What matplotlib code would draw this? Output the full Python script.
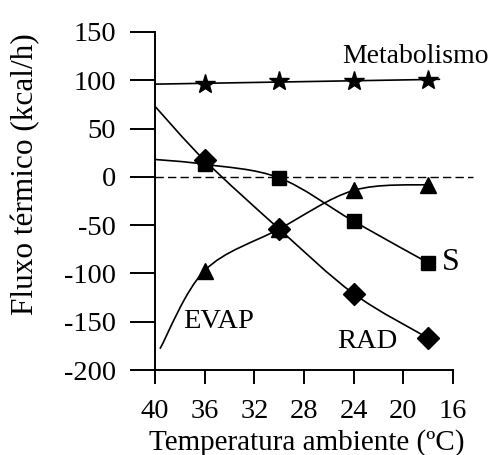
import matplotlib
matplotlib.use("Agg")
import matplotlib.pyplot as plt
from matplotlib.path import Path
from matplotlib.patches import PathPatch

plt.rcParams['font.family'] = ['Liberation Serif', 'DejaVu Serif']

# Marker data (temperature, kcal/h)
temps = [36, 30, 24, 18]
metab = [96, 99, 99, 100]
s_vals = [13, -1, -46, -89]
rad_vals = [17, -54, -121, -167]
evap_vals = [-97, -54, -14, -8]

# Fitted line end points
metab_line_x = [40, 17.1]
metab_line_y = [96, 101]
s_line_x = [40, 36, 30, 24, 18]
s_line_y = [18, 13, -1, -46, -89]
rad_line_x = [40, 36, 30, 24, 18]
rad_line_y = [73, 17, -54, -121, -167]
evap_line_x = [39.6, 36, 30, 24, 18]
evap_line_y = [-178, -97, -54, -14, -8]

xticks = [40, 36, 32, 28, 24, 20, 16]
yticks = [150, 100, 50, 0, -50, -100, -150, -200]
ytick_labels = ['150', '100', '50', '0', '-50', '-100', '-150', '-200']


def smooth_path(xs, ys, tension=1/6):
    verts = [(xs[0], ys[0])]
    codes = [Path.MOVETO]
    n = len(xs)
    for i in range(n - 1):
        x0, y0 = (xs[i - 1], ys[i - 1]) if i > 0 else (xs[i], ys[i])
        x1, y1 = xs[i], ys[i]
        x2, y2 = xs[i + 1], ys[i + 1]
        x3, y3 = (xs[i + 2], ys[i + 2]) if i + 2 < n else (xs[i + 1], ys[i + 1])
        c1 = (x1 + (x2 - x0) * tension, y1 + (y2 - y0) * tension)
        c2 = (x2 - (x3 - x1) * tension, y2 - (y3 - y1) * tension)
        verts += [c1, c2, (x2, y2)]
        codes += [Path.CURVE4] * 3
    return Path(verts, codes)


fig = plt.figure(figsize=(4.94, 4.55), dpi=100)
ax = fig.add_axes([0.3138, 0.1868, 0.917 - 0.3138, 0.9297 - 0.1868])

ax.plot(metab_line_x, metab_line_y, color='black', lw=1.2, clip_on=False)
for lx, ly in [(s_line_x, s_line_y), (rad_line_x, rad_line_y),
               (evap_line_x, evap_line_y)]:
    ax.add_patch(PathPatch(smooth_path(lx, ly), facecolor='none',
                           edgecolor='black', lw=1.2, clip_on=False))

ax.plot([40, 14.4], [0, 0], ls=(0, (6, 3)), color='black', lw=1.0, clip_on=False)

ax.plot(temps, metab, ls='none', marker='*', ms=15, color='black', clip_on=False)
ax.plot(temps, s_vals, ls='none', marker='s', ms=10, color='black', clip_on=False)
ax.plot(temps, rad_vals, ls='none', marker='D', ms=11.5, color='black', clip_on=False)
ax.plot(temps, evap_vals, ls='none', marker='^', ms=12, color='black', clip_on=False)

fs = 20.5
ax.text(13.1, 125, 'Metabolismo', fontsize=20, va='center', ha='right')
ax.text(16.9, -89, 'S', fontsize=23, va='center', ha='left')
ax.text(22.9, -170, 'RAD', fontsize=fs, va='center', ha='center')
ax.text(34.9, -150, 'EVAP', fontsize=fs, va='center', ha='center')

ax.set_xlim(40, 16)
ax.set_ylim(-200, 150)
ax.set_xticks(xticks)
ax.set_yticks(yticks)
ax.set_yticklabels(ytick_labels)
for sp in ['top', 'right']:
    ax.spines[sp].set_visible(False)
for sp in ['left', 'bottom']:
    ax.spines[sp].set_linewidth(1.4)
ax.tick_params(axis='y', direction='out', length=18, width=1.4, pad=10, labelsize=fs)
ax.tick_params(axis='x', direction='out', length=10, width=1.4, pad=11, labelsize=fs)

ax.set_xlabel('Temperatura ambiente (ºC)', fontsize=21, labelpad=2)
ax.xaxis.set_label_coords(0.51, -0.175)
ax.xaxis.label.set_va('top')
ax.set_ylabel('Fluxo térmico (kcal/h)', fontsize=22.5)
ax.yaxis.set_label_coords(-0.386, 0.58)

fig.savefig('out.png', dpi=100)
